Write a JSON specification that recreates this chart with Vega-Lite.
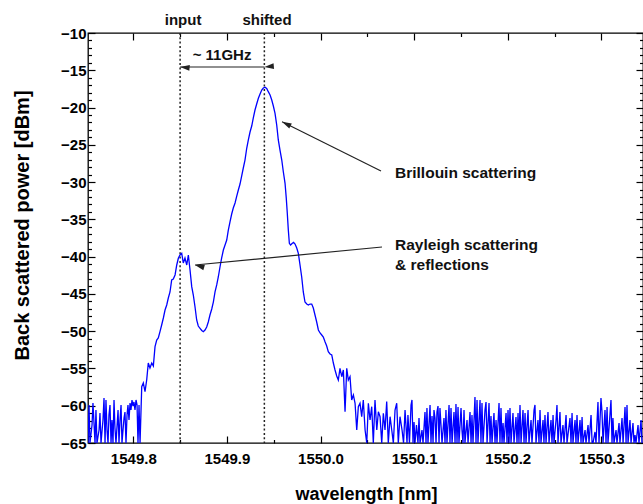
{
  "$schema": "https://vega.github.io/schema/vega-lite/v6.json",
  "width": 555,
  "height": 410,
  "autosize": "none",
  "padding": {"left": 88, "top": 33, "right": 0, "bottom": 61},
  "background": "white",
  "config": {
    "view": {"stroke": "#000", "strokeWidth": 1.3},
    "axis": {"grid": false, "domain": false, "tickColor": "#000", "tickWidth": 1.2, "labelFont": "Liberation Sans", "labelFontSize": 15, "labelFontWeight": "bold", "labelColor": "#000", "titleFont": "Liberation Sans", "titleFontWeight": "bold", "titleColor": "#000"}
  },
  "datasets": {
    "spectrum": [
      {"wl":1549.7516,"dbm":-65},{"wl":1549.7527,"dbm":-59.9},{"wl":1549.7537,"dbm":-65},{"wl":1549.7559,"dbm":-62.59},{"wl":1549.7569,"dbm":-59.64},{"wl":1549.7591,"dbm":-65},{"wl":1549.7601,"dbm":-60.57},{"wl":1549.7612,"dbm":-65},{"wl":1549.7634,"dbm":-63.26},{"wl":1549.7644,"dbm":-60.98},{"wl":1549.7655,"dbm":-65},{"wl":1549.7676,"dbm":-61.91},{"wl":1549.7687,"dbm":-58.97},{"wl":1549.7698,"dbm":-65},{"wl":1549.7708,"dbm":-59.23},{"wl":1549.7719,"dbm":-63.26},{"wl":1549.773,"dbm":-65},{"wl":1549.774,"dbm":-61.25},{"wl":1549.7751,"dbm":-59.9},{"wl":1549.7762,"dbm":-65},{"wl":1549.7772,"dbm":-61.91},{"wl":1549.7783,"dbm":-65},{"wl":1549.7794,"dbm":-59.23},{"wl":1549.7804,"dbm":-62.99},{"wl":1549.7815,"dbm":-65},{"wl":1549.7837,"dbm":-60.57},{"wl":1549.7847,"dbm":-65},{"wl":1549.7858,"dbm":-61.91},{"wl":1549.7869,"dbm":-59.9},{"wl":1549.7879,"dbm":-65},{"wl":1549.789,"dbm":-63.26},{"wl":1549.7901,"dbm":-61.65},{"wl":1549.7911,"dbm":-60.84},{"wl":1549.7922,"dbm":-65},{"wl":1549.7933,"dbm":-61.25},{"wl":1549.7943,"dbm":-59.9},{"wl":1549.7954,"dbm":-61.91},{"wl":1549.7965,"dbm":-59.64},{"wl":1549.7975,"dbm":-60.57},{"wl":1549.7986,"dbm":-59.23},{"wl":1549.7997,"dbm":-60.04},{"wl":1549.8007,"dbm":-59.5},{"wl":1549.8018,"dbm":-60.57},{"wl":1549.8029,"dbm":-59.23},{"wl":1549.804,"dbm":-59.9},{"wl":1549.805,"dbm":-65},{"wl":1549.8061,"dbm":-59.9},{"wl":1549.8072,"dbm":-65},
      {"wl":1549.809,"dbm":-57.45},{"wl":1549.8107,"dbm":-56.95},{"wl":1549.8125,"dbm":-58.12},{"wl":1549.8143,"dbm":-56.55},{"wl":1549.816,"dbm":-54.27},{"wl":1549.8178,"dbm":-54.94},{"wl":1549.8197,"dbm":-54.27},{"wl":1549.8214,"dbm":-54.67},{"wl":1549.8232,"dbm":-52.08},{"wl":1549.825,"dbm":-51.18},{"wl":1549.8267,"dbm":-50.91},{"wl":1549.8285,"dbm":-50.07},{"wl":1549.8303,"dbm":-49.17},{"wl":1549.8321,"dbm":-48.23},{"wl":1549.8339,"dbm":-47.16},{"wl":1549.8357,"dbm":-46.49},{"wl":1549.8374,"dbm":-45.55},{"wl":1549.8392,"dbm":-44.74},{"wl":1549.841,"dbm":-43.13},{"wl":1549.8427,"dbm":-43.0},{"wl":1549.8446,"dbm":-42.46},{"wl":1549.8464,"dbm":-41.12},{"wl":1549.8481,"dbm":-40.22},{"wl":1549.8499,"dbm":-39.78},{"wl":1549.8517,"dbm":-39.55},{"wl":1549.8534,"dbm":-40.85},{"wl":1549.8552,"dbm":-40.18},{"wl":1549.8571,"dbm":-41.12},{"wl":1549.8588,"dbm":-39.78},{"wl":1549.8606,"dbm":-41.79},{"wl":1549.8624,"dbm":-44.03},{"wl":1549.8641,"dbm":-45.15},{"wl":1549.8659,"dbm":-46.72},{"wl":1549.8677,"dbm":-48.5},{"wl":1549.8694,"dbm":-49.31},{"wl":1549.8713,"dbm":-49.61},{"wl":1549.8731,"dbm":-49.91},{"wl":1549.8748,"dbm":-50.07},{"wl":1549.8766,"dbm":-49.84},{"wl":1549.8784,"dbm":-49.44},{"wl":1549.8801,"dbm":-48.77},{"wl":1549.8819,"dbm":-47.83},{"wl":1549.8838,"dbm":-47.02},{"wl":1549.8855,"dbm":-46.09},{"wl":1549.8873,"dbm":-44.74},{"wl":1549.8891,"dbm":-43.8},{"wl":1549.8908,"dbm":-42.73},{"wl":1549.8926,"dbm":-41.39},{"wl":1549.8944,"dbm":-40.18},{"wl":1549.8962,"dbm":-39.11},{"wl":1549.898,"dbm":-38.44},{"wl":1549.8998,"dbm":-37.77},{"wl":1549.9015,"dbm":-36.43},{"wl":1549.9033,"dbm":-35.35},{"wl":1549.9051,"dbm":-34.28},{"wl":1549.9068,"dbm":-33.48},{"wl":1549.9087,"dbm":-32.8},{"wl":1549.9105,"dbm":-31.87},{"wl":1549.9122,"dbm":-31.06},{"wl":1549.914,"dbm":-30.26},{"wl":1549.9158,"dbm":-29.18},{"wl":1549.9175,"dbm":-28.11},{"wl":1549.9193,"dbm":-27.04},{"wl":1549.9212,"dbm":-25.43},{"wl":1549.9229,"dbm":-24.35},{"wl":1549.9247,"dbm":-23.28},{"wl":1549.9265,"dbm":-22.48},{"wl":1549.9282,"dbm":-21.4},{"wl":1549.93,"dbm":-20.33},{"wl":1549.9318,"dbm":-19.53},{"wl":1549.9336,"dbm":-18.76},{"wl":1549.9354,"dbm":-18.18},{"wl":1549.9372,"dbm":-17.65},{"wl":1549.9389,"dbm":-17.38},{"wl":1549.9407,"dbm":-17.28},{"wl":1549.9425,"dbm":-17.44},{"wl":1549.9442,"dbm":-17.87},{"wl":1549.9461,"dbm":-18.32},{"wl":1549.9479,"dbm":-18.99},{"wl":1549.9496,"dbm":-19.79},{"wl":1549.9514,"dbm":-20.77},{"wl":1549.9532,"dbm":-22.34},{"wl":1549.9549,"dbm":-24.35},{"wl":1549.9567,"dbm":-25.7},{"wl":1549.9586,"dbm":-27.04},{"wl":1549.9603,"dbm":-28.65},{"wl":1549.9621,"dbm":-30.16},{"wl":1549.9634,"dbm":-32.13},{"wl":1549.9645,"dbm":-34.19},{"wl":1549.9656,"dbm":-36.43},{"wl":1549.9667,"dbm":-38.21},{"wl":1549.968,"dbm":-38.44},{"wl":1549.9696,"dbm":-38.24},{"wl":1549.9712,"dbm":-38.1},{"wl":1549.9728,"dbm":-38.31},{"wl":1549.9746,"dbm":-38.84},{"wl":1549.9763,"dbm":-39.55},{"wl":1549.9781,"dbm":-41.12},{"wl":1549.9799,"dbm":-42.73},{"wl":1549.9816,"dbm":-44.74},{"wl":1549.9834,"dbm":-46.09},{"wl":1549.9853,"dbm":-46.36},{"wl":1549.987,"dbm":-46.49},{"wl":1549.9888,"dbm":-46.36},{"wl":1549.9906,"dbm":-46.36},{"wl":1549.9923,"dbm":-46.89},{"wl":1549.9941,"dbm":-47.83},{"wl":1549.9959,"dbm":-48.77},{"wl":1549.9977,"dbm":-49.84},{"wl":1549.9995,"dbm":-50.24},{"wl":1550.0013,"dbm":-50.51},{"wl":1550.003,"dbm":-50.78},{"wl":1550.0048,"dbm":-51.41},{"wl":1550.0066,"dbm":-51.99},{"wl":1550.0083,"dbm":-52.75},{"wl":1550.0102,"dbm":-53.06},{"wl":1550.012,"dbm":-53.19},{"wl":1550.0137,"dbm":-54.27},{"wl":1550.0155,"dbm":-55.21},{"wl":1550.0173,"dbm":-56.01},{"wl":1550.019,"dbm":-56.55},{"wl":1550.0208,"dbm":-54.98},{"wl":1550.0227,"dbm":-56.11},{"wl":1550.0244,"dbm":-55.21},{"wl":1550.0262,"dbm":-60.8},{"wl":1550.028,"dbm":-54.98},{"wl":1550.0297,"dbm":-56.55},{"wl":1550.0315,"dbm":-56.11},{"wl":1550.0333,"dbm":-59.23},{"wl":1550.0351,"dbm":-58.56},{"wl":1550.0369,"dbm":-59.67},{"wl":1550.0387,"dbm":-63.26},{"wl":1550.0404,"dbm":-60.13},{"wl":1550.0422,"dbm":-59.67},{"wl":1550.044,"dbm":-61.47},{"wl":1550.0457,"dbm":-59.23},{"wl":1550.0476,"dbm":-63.26},{"wl":1550.0494,"dbm":-65},{"wl":1550.0511,"dbm":-59.67},{"wl":1550.0529,"dbm":-61.91},{"wl":1550.0547,"dbm":-60.13},{"wl":1550.0564,"dbm":-65},{"wl":1550.0582,"dbm":-59.23},{"wl":1550.0601,"dbm":-63.26},{"wl":1550.0618,"dbm":-60.8},{"wl":1550.0636,"dbm":-61.47},{"wl":1550.0654,"dbm":-65},{"wl":1550.0671,"dbm":-61.02},{"wl":1550.0689,"dbm":-63.26},{"wl":1550.0707,"dbm":-59.45},{"wl":1550.0724,"dbm":-65},{"wl":1550.0743,"dbm":-61.47},{"wl":1550.0761,"dbm":-63.26},{"wl":1550.0778,"dbm":-65},{"wl":1550.0796,"dbm":-60.57},{"wl":1550.0814,"dbm":-59.67},{"wl":1550.0831,"dbm":-65},{"wl":1550.0849,"dbm":-61.47},{"wl":1550.0871,"dbm":-63.26},{"wl":1550.0887,"dbm":-65},{"wl":1550.0903,"dbm":-60.57},{"wl":1550.0924,"dbm":-65},
      {"wl":1550.0934,"dbm":-61.25},{"wl":1550.095,"dbm":-65},{"wl":1550.0967,"dbm":-59.9},{"wl":1550.0977,"dbm":-59.23},{"wl":1550.0988,"dbm":-65},{"wl":1550.0999,"dbm":-62.18},{"wl":1550.1009,"dbm":-65},{"wl":1550.1025,"dbm":-62.59},{"wl":1550.1041,"dbm":-65},{"wl":1550.1052,"dbm":-61.65},{"wl":1550.1063,"dbm":-65},{"wl":1550.1084,"dbm":-63.26},{"wl":1550.1095,"dbm":-65},{"wl":1550.1116,"dbm":-60.84},{"wl":1550.1127,"dbm":-65},{"wl":1550.1137,"dbm":-60.31},{"wl":1550.1148,"dbm":-65},{"wl":1550.117,"dbm":-59.9},{"wl":1550.118,"dbm":-65},{"wl":1550.1191,"dbm":-61.38},{"wl":1550.1202,"dbm":-65},{"wl":1550.1212,"dbm":-60.57},{"wl":1550.1223,"dbm":-61.65},{"wl":1550.1234,"dbm":-65},{"wl":1550.1244,"dbm":-60.84},{"wl":1550.1255,"dbm":-60.04},{"wl":1550.1266,"dbm":-65},{"wl":1550.1276,"dbm":-60.31},{"wl":1550.1287,"dbm":-62.59},{"wl":1550.1298,"dbm":-65},{"wl":1550.1319,"dbm":-61.65},{"wl":1550.133,"dbm":-65},{"wl":1550.134,"dbm":-60.57},{"wl":1550.1351,"dbm":-65},{"wl":1550.1373,"dbm":-59.9},{"wl":1550.1383,"dbm":-65},{"wl":1550.1394,"dbm":-60.31},{"wl":1550.1405,"dbm":-65},{"wl":1550.1426,"dbm":-60.84},{"wl":1550.1437,"dbm":-65},{"wl":1550.1447,"dbm":-59.77},{"wl":1550.1458,"dbm":-65},{"wl":1550.1469,"dbm":-60.17},{"wl":1550.1479,"dbm":-65},{"wl":1550.1501,"dbm":-60.31},{"wl":1550.1511,"dbm":-63.26},{"wl":1550.1522,"dbm":-65},{"wl":1550.1533,"dbm":-60.57},{"wl":1550.1543,"dbm":-65},{"wl":1550.1565,"dbm":-61.91},{"wl":1550.1576,"dbm":-65},{"wl":1550.1597,"dbm":-60.84},{"wl":1550.1608,"dbm":-65},{"wl":1550.1618,"dbm":-61.25},{"wl":1550.1629,"dbm":-65},{"wl":1550.165,"dbm":-58.83},{"wl":1550.1661,"dbm":-65},{"wl":1550.1672,"dbm":-59.23},{"wl":1550.1682,"dbm":-65},{"wl":1550.1704,"dbm":-59.23},{"wl":1550.1714,"dbm":-65},{"wl":1550.1725,"dbm":-59.64},{"wl":1550.1736,"dbm":-65},{"wl":1550.1757,"dbm":-60.57},{"wl":1550.1768,"dbm":-59.5},{"wl":1550.1779,"dbm":-65},{"wl":1550.18,"dbm":-59.64},{"wl":1550.1811,"dbm":-65},{"wl":1550.1821,"dbm":-61.38},{"wl":1550.1832,"dbm":-65},{"wl":1550.1853,"dbm":-60.98},{"wl":1550.1864,"dbm":-65},{"wl":1550.1875,"dbm":-61.91},{"wl":1550.1885,"dbm":-65},{"wl":1550.1907,"dbm":-59.64},{"wl":1550.1917,"dbm":-65},{"wl":1550.1928,"dbm":-60.31},{"wl":1550.1939,"dbm":-65},{"wl":1550.195,"dbm":-62.32},{"wl":1550.196,"dbm":-65},{"wl":1550.1982,"dbm":-60.98},{"wl":1550.1992,"dbm":-65},{"wl":1550.2003,"dbm":-60.57},{"wl":1550.2014,"dbm":-65},{"wl":1550.2024,"dbm":-60.31},{"wl":1550.2035,"dbm":-65},{"wl":1550.2056,"dbm":-60.98},{"wl":1550.2067,"dbm":-65},{"wl":1550.2088,"dbm":-61.51},{"wl":1550.2099,"dbm":-65},{"wl":1550.211,"dbm":-60.98},{"wl":1550.212,"dbm":-65},{"wl":1550.2131,"dbm":-59.9},{"wl":1550.2142,"dbm":-65},{"wl":1550.2163,"dbm":-60.57},{"wl":1550.2174,"dbm":-65},{"wl":1550.2185,"dbm":-60.98},{"wl":1550.2195,"dbm":-65},{"wl":1550.2217,"dbm":-60.57},{"wl":1550.2227,"dbm":-65},{"wl":1550.2249,"dbm":-61.91},{"wl":1550.2259,"dbm":-65},{"wl":1550.2281,"dbm":-60.57},{"wl":1550.2291,"dbm":-59.9},{"wl":1550.2302,"dbm":-65},{"wl":1550.2323,"dbm":-61.91},{"wl":1550.2334,"dbm":-65},{"wl":1550.2345,"dbm":-60.57},{"wl":1550.2355,"dbm":-65},{"wl":1550.2377,"dbm":-61.91},{"wl":1550.2387,"dbm":-65},{"wl":1550.2398,"dbm":-61.25},{"wl":1550.2409,"dbm":-65},{"wl":1550.243,"dbm":-60.84},{"wl":1550.2441,"dbm":-65},{"wl":1550.2462,"dbm":-61.91},{"wl":1550.2473,"dbm":-65},{"wl":1550.2484,"dbm":-61.25},{"wl":1550.2494,"dbm":-65},{"wl":1550.2516,"dbm":-61.91},{"wl":1550.2526,"dbm":-59.9},{"wl":1550.2537,"dbm":-65},{"wl":1550.2558,"dbm":-60.84},{"wl":1550.2569,"dbm":-65},{"wl":1550.259,"dbm":-62.59},{"wl":1550.2601,"dbm":-65},{"wl":1550.2623,"dbm":-61.25},{"wl":1550.2633,"dbm":-65},{"wl":1550.2665,"dbm":-61.65},{"wl":1550.2676,"dbm":-65},{"wl":1550.2687,"dbm":-60.98},{"wl":1550.2697,"dbm":-65},{"wl":1550.2719,"dbm":-61.91},{"wl":1550.2729,"dbm":-65},{"wl":1550.274,"dbm":-61.25},{"wl":1550.2751,"dbm":-65},{"wl":1550.2772,"dbm":-61.91},{"wl":1550.2783,"dbm":-65},{"wl":1550.2794,"dbm":-61.51},{"wl":1550.2804,"dbm":-65},{"wl":1550.2826,"dbm":-63.26},{"wl":1550.2836,"dbm":-65},{"wl":1550.2858,"dbm":-62.59},{"wl":1550.2868,"dbm":-65},{"wl":1550.289,"dbm":-61.25},{"wl":1550.2901,"dbm":-65},{"wl":1550.2911,"dbm":-65},{"wl":1550.2932,"dbm":-63.52},{"wl":1550.2943,"dbm":-65},{"wl":1550.2964,"dbm":-59.5},{"wl":1550.2975,"dbm":-65},{"wl":1550.2996,"dbm":-58.97},{"wl":1550.3007,"dbm":-60.84},{"wl":1550.3018,"dbm":-65},{"wl":1550.3039,"dbm":-60.57},{"wl":1550.305,"dbm":-65},{"wl":1550.3061,"dbm":-60.17},{"wl":1550.3071,"dbm":-65},{"wl":1550.3103,"dbm":-59.23},{"wl":1550.3114,"dbm":-65},{"wl":1550.3124,"dbm":-61.65},{"wl":1550.3135,"dbm":-65},{"wl":1550.3157,"dbm":-63.26},{"wl":1550.3167,"dbm":-65},{"wl":1550.3189,"dbm":-62.32},{"wl":1550.3199,"dbm":-65},{"wl":1550.3221,"dbm":-61.65},{"wl":1550.3232,"dbm":-65},{"wl":1550.3253,"dbm":-60.17},{"wl":1550.3264,"dbm":-65},{"wl":1550.3274,"dbm":-59.9},{"wl":1550.3285,"dbm":-65},{"wl":1550.3306,"dbm":-61.91},{"wl":1550.3317,"dbm":-65},{"wl":1550.3338,"dbm":-62.32},{"wl":1550.3349,"dbm":-65},{"wl":1550.336,"dbm":-63.93},{"wl":1550.337,"dbm":-65},{"wl":1550.3392,"dbm":-62.59},{"wl":1550.3402,"dbm":-65},{"wl":1550.3424,"dbm":-61.91},{"wl":1550.3434,"dbm":-65}
    ],
    "markers": [{"wl": 1549.85}, {"wl": 1549.94}],
    "toplabels": [
      {"text": "input", "wl": 1549.8532, "dbm": -8.93},
      {"text": "shifted", "wl": 1549.9428, "dbm": -8.93},
      {"text": "~ 11GHz", "wl": 1549.8948, "dbm": -13.62}
    ],
    "notes": [
      {"text": "Brillouin scattering", "wl": 1550.0796, "dbm": -29.45},
      {"text": "Rayleigh scattering", "wl": 1550.0796, "dbm": -39.11},
      {"text": "& reflections", "wl": 1550.0796, "dbm": -41.79}
    ],
    "arrows": [
      {"arrow": "brillouin", "wl": 1550.0646, "dbm": -28.51, "wl2": 1549.9589, "dbm2": -21.9},
      {"arrow": "rayleigh", "wl": 1550.0657, "dbm": -38.71, "wl2": 1549.8659, "dbm2": -41.12},
      {"arrow": "gap", "wl": 1549.85, "dbm": -14.56, "wl2": 1549.94, "dbm2": -14.56}
    ],
    "heads": [
      {"arrow": "brillouin", "wl": 1549.9589, "dbm": -21.9},
      {"arrow": "rayleigh", "wl": 1549.8659, "dbm": -41.12},
      {"arrow": "gap-left", "wl": 1549.85, "dbm": -14.56},
      {"arrow": "gap-right", "wl": 1549.94, "dbm": -14.56}
    ]
  },
  "resolve": {"axis": {"x": "independent", "y": "independent"}},
  "layer": [
    {
      "data": {"name": "markers"},
      "mark": {"type": "rule", "color": "#222", "strokeWidth": 1.5, "strokeDash": [2, 2.3]},
      "encoding": {
        "x": {"field": "wl", "type": "quantitative", "scale": {"domain": [1549.7516, 1550.3445], "nice": false, "zero": false},
          "axis": {"orient": "top", "title": null, "labels": false, "values": [1549.8,1549.85,1549.9,1549.95,1550,1550.05,1550.1,1550.15,1550.2,1550.25,1550.3],
            "tickSize": {"condition": {"test": "round(datum.value*100) % 10 === 0", "value": -7}, "value": -3.5}}}
      }
    },
    {
      "data": {"name": "spectrum"},
      "mark": {"type": "line", "color": "#0000ff", "strokeWidth": 1.3, "clip": true},
      "encoding": {
        "x": {"field": "wl", "type": "quantitative", "scale": {"domain": [1549.7516, 1550.3445], "nice": false, "zero": false},
          "axis": {"orient": "bottom", "title": "wavelength [nm]", "titleFontSize": 18, "titleX": 278, "titleY": 56, "titleAlign": "center", "titleBaseline": "alphabetic",
            "values": [1549.8,1549.85,1549.9,1549.95,1550,1550.05,1550.1,1550.15,1550.2,1550.25,1550.3],
            "labelExpr": "round(datum.value*100) % 10 === 0 ? format(datum.value, '.1f') : ''",
            "labelPadding": 15,
            "tickSize": {"condition": {"test": "round(datum.value*100) % 10 === 0", "value": -7}, "value": -3.5}}},
        "y": {"field": "dbm", "type": "quantitative", "scale": {"domain": [-65, -10], "nice": false, "zero": false},
          "axis": {"orient": "left", "title": "Back scattered power [dBm]", "titleFontSize": 20, "titleX": -66, "titleY": 192, "titleAngle": 270, "titleAlign": "center", "titleBaseline": "middle",
            "values": [-65,-64,-63,-62,-61,-60,-59,-58,-57,-56,-55,-54,-53,-52,-51,-50,-49,-48,-47,-46,-45,-44,-43,-42,-41,-40,-39,-38,-37,-36,-35,-34,-33,-32,-31,-30,-29,-28,-27,-26,-25,-24,-23,-22,-21,-20,-19,-18,-17,-16,-15,-14,-13,-12,-11,-10],
            "labelExpr": "datum.value % 5 === 0 ? datum.label : ''",
            "labelPadding": 9,
            "tickSize": {"condition": {"test": "datum.value % 5 === 0", "value": -7}, "value": -3.5}}}
      }
    },
    {
      "data": {"name": "arrows"},
      "mark": {"type": "rule", "color": "#222", "strokeWidth": 1.2},
      "encoding": {
        "x": {"field": "wl", "type": "quantitative", "scale": {"domain": [1549.7516, 1550.3445], "nice": false, "zero": false}, "axis": null},
        "x2": {"field": "wl2"},
        "y": {"field": "dbm", "type": "quantitative", "scale": {"domain": [-65, -10], "nice": false, "zero": false},
          "axis": {"orient": "right", "title": null, "labels": false,
            "values": [-65,-64,-63,-62,-61,-60,-59,-58,-57,-56,-55,-54,-53,-52,-51,-50,-49,-48,-47,-46,-45,-44,-43,-42,-41,-40,-39,-38,-37,-36,-35,-34,-33,-32,-31,-30,-29,-28,-27,-26,-25,-24,-23,-22,-21,-20,-19,-18,-17,-16,-15,-14,-13,-12,-11,-10],
            "tickSize": {"condition": {"test": "datum.value % 5 === 0", "value": -7}, "value": -3.5}}},
        "y2": {"field": "dbm2"}
      }
    },
    {
      "data": {"name": "heads"},
      "mark": {"type": "point", "filled": true, "color": "#222", "opacity": 1, "shape": "M0,0L-0.3,1L0.3,1Z", "size": 360},
      "encoding": {
        "x": {"field": "wl", "type": "quantitative", "scale": {"domain": [1549.7516, 1550.3445], "nice": false, "zero": false}, "axis": null},
        "y": {"field": "dbm", "type": "quantitative", "scale": {"domain": [-65, -10], "nice": false, "zero": false}, "axis": null},
        "angle": {"field": "arrow", "type": "nominal", "scale": {"domain": ["brillouin", "rayleigh", "gap-left", "gap-right"], "range": [296.5, 264.5, 270, 90]}, "legend": null}
      }
    },
    {
      "data": {"name": "toplabels"},
      "mark": {"type": "text", "font": "Liberation Sans", "fontWeight": "bold", "fontSize": 15, "color": "#111", "align": "center", "baseline": "alphabetic"},
      "encoding": {
        "x": {"field": "wl", "type": "quantitative", "scale": {"domain": [1549.7516, 1550.3445], "nice": false, "zero": false}, "axis": null},
        "y": {"field": "dbm", "type": "quantitative", "scale": {"domain": [-65, -10], "nice": false, "zero": false}, "axis": null},
        "text": {"field": "text"}
      }
    },
    {
      "data": {"name": "notes"},
      "mark": {"type": "text", "font": "Liberation Sans", "fontWeight": "bold", "fontSize": 15.5, "color": "#111", "align": "left", "baseline": "alphabetic"},
      "encoding": {
        "x": {"field": "wl", "type": "quantitative", "scale": {"domain": [1549.7516, 1550.3445], "nice": false, "zero": false}, "axis": null},
        "y": {"field": "dbm", "type": "quantitative", "scale": {"domain": [-65, -10], "nice": false, "zero": false}, "axis": null},
        "text": {"field": "text"}
      }
    }
  ]
}
